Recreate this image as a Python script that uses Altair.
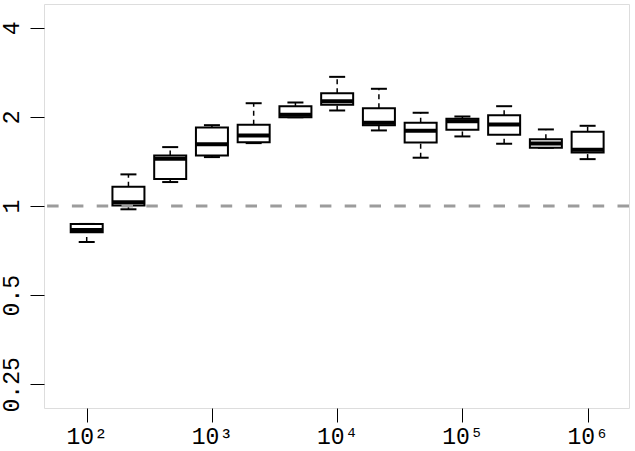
import altair as alt
import pandas as pd

# box positions (x) and five-number summaries
positions = [100, 215.4, 464.2, 1000, 2154, 4642, 10000, 21544, 46416, 100000, 215443, 464159, 1000000]
whisker_low = [0.756, 0.975, 1.205, 1.463, 1.631, 1.995, 2.102, 1.800, 1.456, 1.718, 1.623, 1.573, 1.440]
quart_1 = [0.815, 1.005, 1.233, 1.482, 1.643, 1.995, 2.197, 1.875, 1.640, 1.810, 1.741, 1.573, 1.517]
medians = [0.830, 1.029, 1.445, 1.618, 1.731, 2.033, 2.259, 1.911, 1.795, 1.934, 1.885, 1.627, 1.549]
quart_3 = [0.870, 1.162, 1.482, 1.842, 1.881, 2.173, 2.404, 2.139, 1.911, 1.971, 2.027, 1.682, 1.781]
whisker_high = [0.870, 1.279, 1.581, 1.875, 2.224, 2.237, 2.730, 2.488, 2.065, 2.006, 2.173, 1.814, 1.866]

x_ticks = [100, 1000, 10000, 100000, 1000000]
y_ticks = [0.25, 0.5, 1, 2, 4]
ref_value = 1

df = pd.DataFrame(dict(x=positions, lo=whisker_low, q1=quart_1, med=medians,
                       q3=quart_3, hi=whisker_high))

FONT = "Liberation Mono"
FS = 23

xscale = alt.Scale(type="log", domain=[45.6, 2.14e6], nice=False, padding=0)
yscale = alt.Scale(type="log", base=2, domain=[0.208, 4.81], nice=False, padding=0)

label_expr = ("datum.value < 500 ? '10\u00b2' : datum.value < 5000 ? '10\u00b3' : "
              "datum.value < 50000 ? '10\u2074' : datum.value < 500000 ? '10\u2075' : '10\u2076'")

X = alt.X("x:Q", scale=xscale, title=None,
          axis=alt.Axis(values=x_ticks, labelExpr=label_expr, grid=False, domain=False,
                        tickSize=14, tickColor="black", tickWidth=1,
                        labelFont=FONT, labelFontSize=FS, labelColor="black",
                        labelPadding=3, labelFlush=False))

def Y(field):
    return alt.Y(f"{field}:Q", scale=yscale, title=None,
                 axis=alt.Axis(values=y_ticks, format=".2~f", grid=False, domain=False,
                               tickSize=14, tickColor="black", tickWidth=1,
                               labelFont=FONT, labelFontSize=FS, labelColor="black",
                               labelAngle=270, labelAlign="center", labelBaseline="alphabetic",
                               labelPadding=11.5, labelFlush=False))

base = alt.Chart(df)

w_low = base.mark_rule(color="black", strokeWidth=1.5, strokeDash=[5, 4]).encode(
    x=X, y=Y("lo"), y2="q1:Q")
w_high = base.mark_rule(color="black", strokeWidth=1.5, strokeDash=[5, 4]).encode(
    x=X, y=Y("q3"), y2="hi:Q")
cap_low = base.mark_tick(orient="horizontal", size=16, thickness=2, color="black", opacity=1).encode(
    x=X, y=Y("lo"))
cap_high = base.mark_tick(orient="horizontal", size=16, thickness=2, color="black", opacity=1).encode(
    x=X, y=Y("hi"))
boxes = base.mark_bar(size=32, fill="white", stroke="black", strokeWidth=2, opacity=1).encode(
    x=X, y=Y("q1"), y2="q3:Q")
med = base.mark_tick(orient="horizontal", size=32, thickness=4, color="black", opacity=1).encode(
    x=X, y=Y("med"))
ref = alt.Chart(pd.DataFrame({"v": [ref_value]})).mark_rule(
    color="#9c9c9c", strokeWidth=3, strokeDash=[11.5, 13.3]).encode(y=Y("v"))

chart = alt.layer(w_low, w_high, cap_low, cap_high, boxes, med, ref).properties(
    width=585, height=404,
    autosize=alt.AutoSizeParams(type="none"),
    padding={"left": 44, "top": 4, "right": 6, "bottom": 43},
).configure_view(stroke="black", strokeWidth=1.5).configure(background="white")

chart.save("out.html", embed_options={"renderer": "svg", "actions": False})
